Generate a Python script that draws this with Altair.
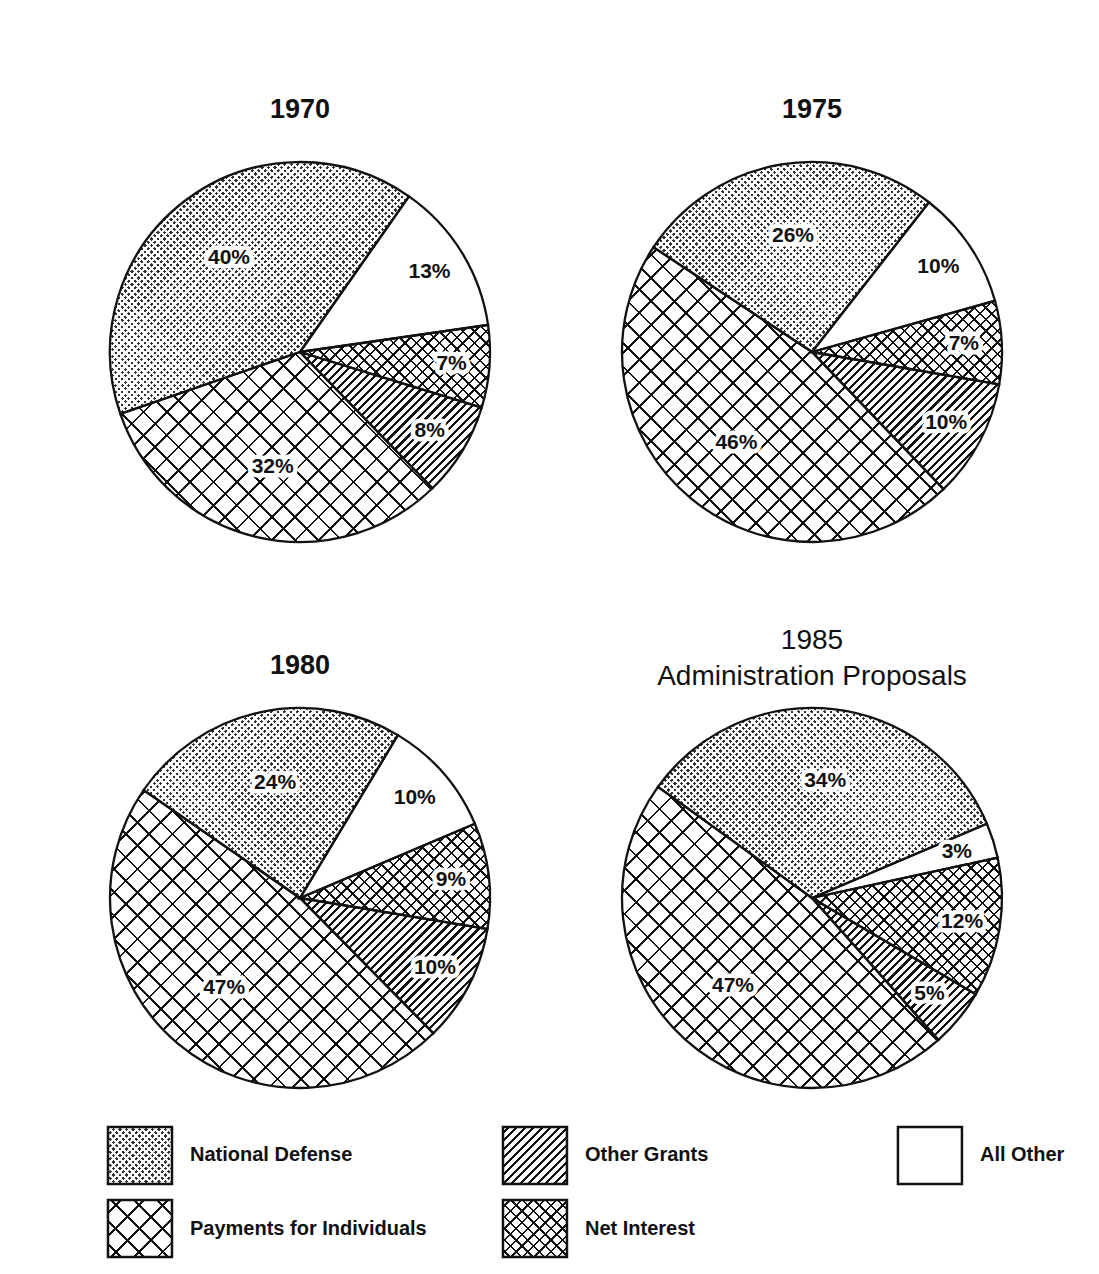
import math
import altair as alt
import pandas as pd

# ---------------- data ----------------
years = ["1970", "1975", "1980", "1985"]
titles = [["1970"], ["1975"], ["1980"], ["1985", "Administration Proposals"]]
categories = ["All Other", "Net Interest", "Other Grants",
              "Payments for Individuals", "National Defense"]
share_1970 = [13, 7, 8, 32, 40]
share_1975 = [10, 7, 10, 46, 26]
share_1980 = [10, 9, 10, 47, 24]
share_1985 = [3, 12, 5, 47, 34]
shares = [share_1970, share_1975, share_1980, share_1985]

legend_items = ["National Defense", "Other Grants", "All Other",
                "Payments for Individuals", "Net Interest"]
legend_col = [0, 1, 2, 0, 1]
legend_row = [0, 0, 0, 1, 1]

# ---------------- style ----------------
start_deg = [35, 38, 31, 67]          # where "All Other" starts (clockwise from 12 o'clock)
title_offset = [28, 28, 18, 7]
title_weight = ["bold", "bold", "bold", "normal"]
title_size = [27, 27, 27, 28]
R = 190
W, H = 480, 400
FONT = "Liberation Sans"
INK = "#111111"
CLEAR = "rgba(255,255,255,0)"
BOX_W, BOX_H = 64, 57

# pattern layers: ("solid", colour) or (direction, period px, line px, line colour, gap colour)
PATTERNS = {
    "National Defense": [("solid", "#333333"),
                         ("/", 4.6, 2.2, "#ffffff", CLEAR),
                         ("\\", 4.6, 2.2, "#ffffff", CLEAR)],
    "All Other": [("solid", "#ffffff")],
    "Net Interest": [("/", 8.2, 1.7, INK, "#ffffff"), ("\\", 8.2, 1.7, INK, CLEAR)],
    "Other Grants": [("/", 6.0, 2.2, INK, "#ffffff")],
    "Payments for Individuals": [("/", 16.5, 2.0, INK, "#ffffff"),
                                 ("\\", 16.5, 2.0, INK, CLEAR)],
}


def stripe_gradient(w, h, direction, period, lw, ink, bg):
    span = w + h
    k = span / (w * w + h * h)
    if direction == "/":
        x1, y1, x2, y2 = 0.0, 0.0, k * w, k * h
    else:
        x1, y1, x2, y2 = 0.0, 1.0, k * w, 1.0 - k * h
    T = period * math.sqrt(2) / span
    L = lw * math.sqrt(2) / span
    stops = [{"offset": 0, "color": bg}]
    t = T / 2
    while t + L < 1:
        a, b = round(t, 5), round(t + L, 5)
        stops += [{"offset": a, "color": bg}, {"offset": a, "color": ink},
                  {"offset": b, "color": ink}, {"offset": b, "color": bg}]
        t += T
    stops.append({"offset": 1, "color": bg})
    return {"gradient": "linear", "x1": round(x1, 5), "y1": round(y1, 5),
            "x2": round(x2, 5), "y2": round(y2, 5), "stops": stops}


def fills_for(cat, w, h):
    out = []
    for p in PATTERNS[cat]:
        if p[0] == "solid":
            out.append(p[1])
        else:
            out.append(stripe_gradient(w, h, *p))
    return out


def arc_bbox(a0, a1, r):
    pts = [(0.0, 0.0), (r * math.sin(a0), -r * math.cos(a0)),
           (r * math.sin(a1), -r * math.cos(a1))]
    for k in range(-4, 12):
        a = k * math.pi / 2
        if a0 < a < a1:
            pts.append((r * math.sin(a), -r * math.cos(a)))
    xs = [p[0] for p in pts]
    ys = [p[1] for p in pts]
    return max(max(xs) - min(xs), 1.0), max(max(ys) - min(ys), 1.0)


rows = []
for y, vals in zip(years, shares):
    for j, (c, v) in enumerate(zip(categories, vals)):
        rows.append({"year": y, "category": c, "order": j, "value": v})
df = pd.DataFrame(rows)


def pie(i):
    y = years[i]
    vals = shares[i]
    total = sum(vals)
    a0 = math.radians(start_deg[i])
    theta_scale = alt.Scale(domain=[0, total], range=[a0, a0 + 2 * math.pi])
    base = (
        alt.Chart(df)
        .transform_filter(alt.datum.year == y)
        .transform_window(cum="sum(value)", sort=[alt.SortField("order")], frame=[None, 0])
        .transform_calculate(
            start="datum.cum - datum.value",
            mid="datum.cum - datum.value / 2",
            lr="datum.value > 20 ? 118 : 152",
            label="datum.value + '%'",
        )
    )
    enc = dict(theta=alt.Theta("start:Q", scale=theta_scale, stack=False), theta2="cum:Q")
    layers = []
    cum = 0
    for c, v in zip(categories, vals):
        s0 = a0 + 2 * math.pi * cum / total
        s1 = a0 + 2 * math.pi * (cum + v) / total
        cum += v
        w, h = arc_bbox(s0, s1, R)
        for f in fills_for(c, w, h):
            layers.append(
                base.transform_filter(alt.datum.category == c)
                .mark_arc(radius=R, fill=f, strokeWidth=0)
                .encode(**enc)
            )
    layers.append(
        base.mark_arc(radius=R, fill="transparent", stroke=INK, strokeWidth=2.3).encode(**enc)
    )
    tenc = dict(theta=alt.Theta("mid:Q", scale=theta_scale, stack=False),
                radius=alt.Radius("lr:Q", scale=None), text="label:N")
    layers.append(
        base.mark_text(font=FONT, fontSize=21, fontWeight="bold", fill="white",
                       stroke="white", strokeWidth=9, strokeJoin="round").encode(**tenc)
    )
    layers.append(
        base.mark_text(font=FONT, fontSize=21, fontWeight="bold", fill=INK).encode(**tenc)
    )
    return alt.layer(*layers).properties(
        width=W, height=H,
        title=alt.Title(titles[i], font=FONT, fontSize=title_size[i],
                        fontWeight=title_weight[i], offset=title_offset[i],
                        anchor="middle", lineHeight=36, color=INK),
    )


# ---------------- legend ----------------
leg_df = pd.DataFrame({"item": legend_items, "col": legend_col, "row": legend_row})
leg_enc = dict(
    x=alt.X("col:Q", scale=alt.Scale(domain=[-0.2025, 2.309], nice=False, zero=False), axis=None),
    y=alt.Y("row:Q", scale=alt.Scale(domain=[-0.527, 1.527], nice=False, zero=False,
                                     reverse=True), axis=None),
)
leg_base = alt.Chart(leg_df)
leg_layers = []
for c in legend_items:
    for f in fills_for(c, BOX_W, BOX_H):
        leg_layers.append(
            leg_base.transform_filter(alt.datum.item == c)
            .mark_rect(width=BOX_W, height=BOX_H, fill=f, strokeWidth=0)
            .encode(**leg_enc)
        )
leg_layers.append(
    leg_base.mark_rect(width=BOX_W, height=BOX_H, fill="transparent",
                       stroke=INK, strokeWidth=2.5).encode(**leg_enc)
)
leg_layers.append(
    leg_base.mark_text(align="left", baseline="middle", dx=50, font=FONT, fontSize=20,
                       fontWeight="bold", fill=INK).encode(text="item:N", **leg_enc)
)
legend = alt.layer(*leg_layers).properties(width=992, height=150)

pies = alt.concat(pie(0), pie(1), pie(2), pie(3), columns=2,
                  spacing={"row": 146, "column": 32}, bounds="flush")
chart = (
    alt.vconcat(pies, legend, spacing=19)
    .properties(padding={"left": 52, "top": 88, "right": 5, "bottom": 5}, background="white")
    .configure_view(stroke=None)
)

chart.save("out.html", embed_options={"renderer": "svg", "actions": False})
